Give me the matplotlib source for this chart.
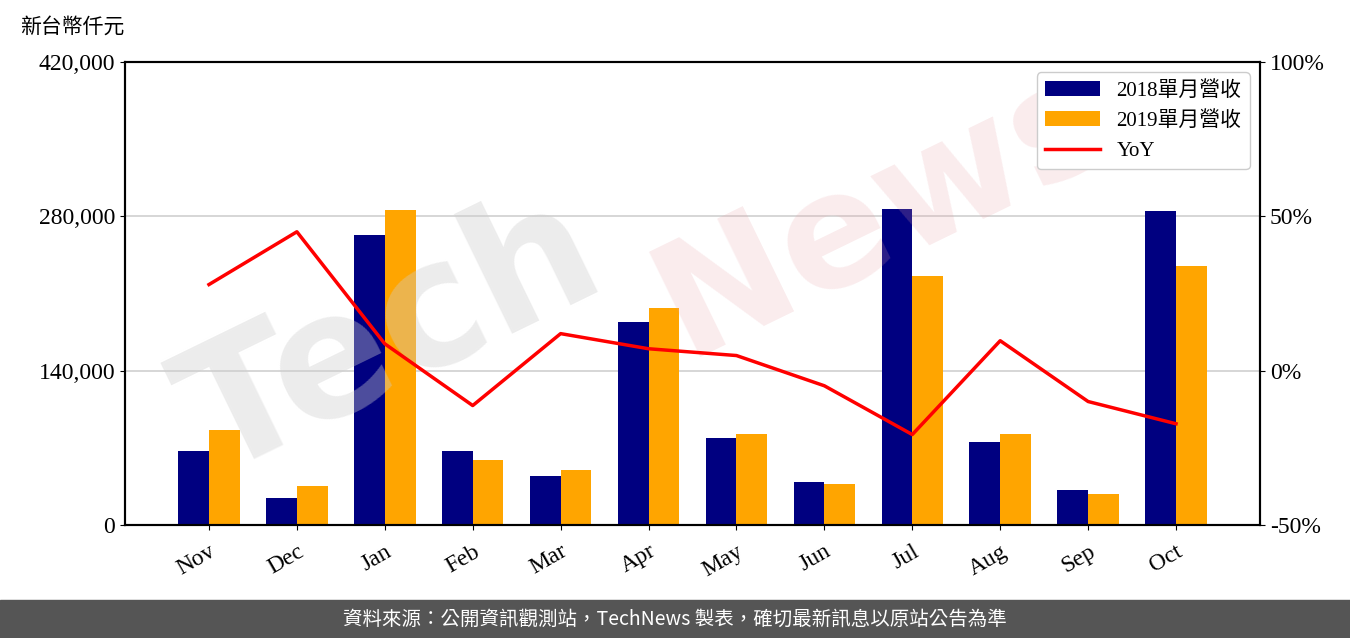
import matplotlib
matplotlib.use('Agg')
import matplotlib.pyplot as plt
import numpy as np
import matplotlib.ticker as ticker

plt.rcParams['font.family'] = ['Liberation Serif', 'Noto Sans CJK TC']

# 資料
months = ['Nov', 'Dec', 'Jan', 'Feb', 'Mar', 'Apr', 'May', 'Jun', 'Jul', 'Aug', 'Sep', 'Oct']
rev_2018 = [67100, 24500, 263000, 67100, 44400, 184100, 78900, 39000, 286600, 75300, 31700, 284800]
rev_2019 = [86200, 35400, 285700, 59000, 49900, 196800, 82500, 37200, 225900, 82500, 28100, 234900]
yoy = [27.9, 45.0, 8.7, -11.3, 12.0, 7.1, 4.9, -4.9, -20.7, 9.7, -10.0, -17.2]

x = np.arange(len(months))
bar_width = 0.35

fig = plt.figure(figsize=(13.5, 6.38), dpi=100)
ax = fig.add_axes([125 / 1350, 1 - 525 / 638, 1135 / 1350, 463 / 638])

ax.bar(x - bar_width / 2, rev_2018, width=bar_width, color='#000080', label='2018單月營收', zorder=2)
ax.bar(x + bar_width / 2, rev_2019, width=bar_width, color='#FFA500', label='2019單月營收', zorder=2)

ax.set_ylim(0, 420000)
ax.set_yticks([0, 140000, 280000, 420000])
ax.yaxis.set_major_formatter(ticker.FuncFormatter(lambda v, p: f'{int(v):,}'))
ax.yaxis.grid(True, color='#d0d0d0', linewidth=1.2, zorder=0)
ax.set_axisbelow(True)
ax.set_xlim(-0.955, len(months) - 1 + 0.955)
ax.set_xticks(x)
ax.set_xticklabels(months, rotation=30, ha='right', rotation_mode='anchor')
ax.tick_params(axis='both', labelsize=17)
ax.tick_params(axis='x', pad=8)
for s in ax.spines.values():
    s.set_linewidth(1.5)

ax2 = ax.twinx()
line, = ax2.plot(x, yoy, color='red', linewidth=2.5, label='YoY', zorder=3)
ax2.set_ylim(-50, 100)
ax2.set_yticks([-50, 0, 50, 100])
ax2.yaxis.set_major_formatter(ticker.FuncFormatter(lambda v, p: f'{int(v)}%'))
ax2.tick_params(axis='y', labelsize=17)
for s in ax2.spines.values():
    s.set_linewidth(1.5)

# 浮水印
ax2.text(0.29, 0.47, 'Tech', fontsize=125, fontweight='bold', color='#cfcfcf', alpha=0.38,
         rotation=26, ha='center', va='center', family='DejaVu Sans',
         transform=fig.transFigure, zorder=1, clip_on=False)
ax2.text(0.655, 0.67, 'News', fontsize=115, fontweight='bold', color='#e8a0a6', alpha=0.2,
         rotation=26, ha='center', va='center', family='DejaVu Sans',
         transform=fig.transFigure, zorder=1, clip_on=False)

h1, l1 = ax.get_legend_handles_labels()
leg = ax2.legend(h1 + [line], l1 + ['YoY'], loc='upper right', fontsize=15,
                 framealpha=1, edgecolor='#cccccc', handlelength=2.6)
leg.set_zorder(10)

fig.text(20 / 1350, 1 - 28 / 638, '新台幣仟元', fontsize=15, ha='left', va='center')

# 底部說明
fig.patches.append(plt.Rectangle((0, 0), 1, 38 / 638, transform=fig.transFigure,
                                 color='#555555', zorder=0))
fig.text(0.5, 19 / 638, '資料來源：公開資訊觀測站，TechNews 製表，確切最新訊息以原站公告為準',
         fontsize=14, color='white', ha='center', va='center', family='Noto Sans CJK TC')

plt.savefig('out.png', dpi=100)
